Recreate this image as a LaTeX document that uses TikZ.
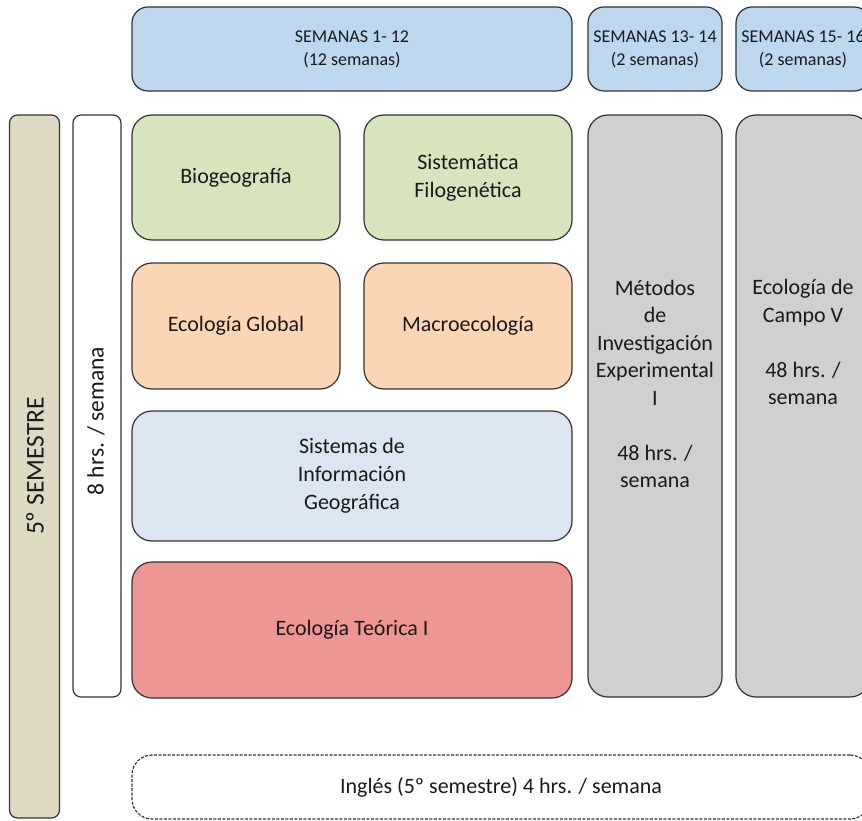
\documentclass[tikz,border=0pt]{standalone}
\usepackage{fontspec}
\setmainfont{Carlito}
\definecolor{topblue}{HTML}{BDD7EE}
\definecolor{cgreen}{HTML}{D7E4BD}
\definecolor{corange}{HTML}{FCD5B5}
\definecolor{csig}{HTML}{DCE6F2}
\definecolor{cred}{HTML}{ED9693}
\definecolor{cgray}{HTML}{D0D0D0}
\definecolor{ctan}{HTML}{DDD9C3}
\definecolor{cline}{HTML}{333333}
\definecolor{ctext}{HTML}{1A1A1A}
\begin{document}
\begin{tikzpicture}[x=1pt,y=-1pt,
  box/.style={draw=cline, line width=1.2pt, rounded corners=20pt, inner sep=0pt, align=center, text=ctext, font=\fontsize{22}{28}\selectfont},
  topbox/.style={box, fill=topblue, rounded corners=16pt, font=\fontsize{18}{23}\selectfont},
  bar/.style={draw=cline, line width=1.2pt, rounded corners=8pt, inner sep=0pt},
  lbl/.style={align=center, inner sep=0pt, text=ctext, font=\fontsize{22}{27.5}\selectfont}]
\clip (0,0) rectangle (862,821);
% top row
\node[topbox, minimum width=440pt, minimum height=84pt] (t1) at (352,49) {SEMANAS 1- 12\\(12 semanas)};
\node[topbox, minimum width=134pt, minimum height=84pt] (t2) at (655,49) {SEMANAS 13- 14\\(2 semanas)};
\node[topbox, minimum width=134pt, minimum height=84pt] (t3) at (803,49) {SEMANAS 15- 16\\(2 semanas)};
% side bars
\node[bar, fill=ctan, minimum width=50pt, minimum height=703pt] (sem) at (34.5,466.5) {};
\node[lbl, rotate=90, font=\fontsize{25.5}{28}\selectfont] (semt) at (35,466) {5º SEMESTRE};
\node[bar, fill=white, minimum width=48pt, minimum height=582pt] (hrs) at (97,406) {};
\node[lbl, rotate=90, font=\fontsize{23.5}{28}\selectfont] (hrst) at (96,421) {8 hrs. / semana};
% courses
\node[box, fill=cgreen, minimum width=208pt, minimum height=125pt] (bio) at (236,177.5) {Biogeografía};
\node[box, fill=cgreen, minimum width=208pt, minimum height=125pt] (sis) at (468,177.5) {Sistemática\\Filogenética};
\node[box, fill=corange, minimum width=208pt, minimum height=126pt] (glo) at (236,326) {Ecología Global};
\node[box, fill=corange, minimum width=208pt, minimum height=126pt] (mac) at (468,326) {Macroecología};
\node[box, fill=csig, minimum width=440pt, minimum height=130pt] (sig) at (352,476) {Sistemas de\\Información\\Geográfica};
\node[box, fill=cred, minimum width=440pt, minimum height=136pt] (teo) at (352,630) {Ecología Teórica I};
% practical blocks
\node[box, fill=cgray, minimum width=134pt, minimum height=582pt] (met) at (655,406) {};
\node[lbl] (mett) at (655,384) {Métodos\\de\\Investigación\\Experimental\\I\\[27.5pt]48 hrs. /\\semana};
\node[box, fill=cgray, minimum width=134pt, minimum height=582pt] (cam) at (803,406) {};
\node[lbl] (camt) at (803,342) {Ecología de\\Campo V\\[27.5pt]48 hrs. /\\semana};
% english
\node[box, dash pattern=on 3pt off 1.5pt, fill=white, minimum width=738pt, minimum height=64pt] (ing) at (501,787) {Inglés (5º semestre) 4 hrs. / semana};
\end{tikzpicture}
\end{document}
